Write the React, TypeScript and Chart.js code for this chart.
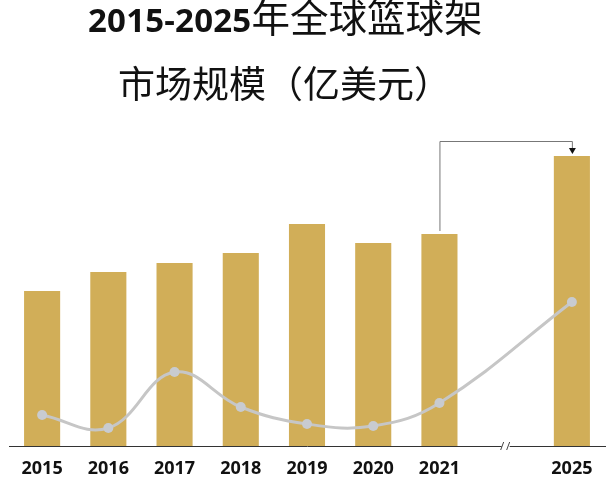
import React, { useEffect, useRef } from "react";
import { Chart, registerables } from "chart.js";

Chart.register(...registerables);

const titleNumber = "2015-2025";
const titleLine1 = "年全球篮球架";
const titleLine2 = "市场规模（亿美元）";

const categories = ["2015", "2016", "2017", "2018", "2019", "2020", "2021", "", "2025"];
const marketSize = [15.5, 17.4, 18.3, 19.3, 22.2, 20.3, 21.2, null, 29.0];
const trendLine = [3.1, 1.8, 7.4, 3.9, 2.2, 2.0, 4.3, null, 14.4];
const breakIndex = 7;
const arrowFrom = 6;
const arrowTo = 8;

const extrasPlugin = {
  id: "extras",
  afterDraw(chart: any) {
    const ctx = chart.ctx;
    const x = chart.scales.x;
    const area = chart.chartArea;
    // axis break marks
    const bx = x.getPixelForValue(breakIndex);
    const by = area.bottom;
    ctx.save();
    ctx.fillStyle = "#ffffff";
    ctx.fillRect(bx - 4, by - 1, 8, 3);
    ctx.strokeStyle = "#444";
    ctx.lineWidth = 1;
    ctx.beginPath();
    ctx.moveTo(bx - 5, by + 4);
    ctx.lineTo(bx - 2, by - 4);
    ctx.moveTo(bx + 1, by + 4);
    ctx.lineTo(bx + 4, by - 4);
    ctx.stroke();
    // arrow
    const meta = chart.getDatasetMeta(0);
    const a = meta.data[arrowFrom];
    const b = meta.data[arrowTo];
    if (a && b) {
      const topY = Math.min(a.y, b.y) - 15;
      ctx.strokeStyle = "#777";
      ctx.lineWidth = 1;
      ctx.beginPath();
      ctx.moveTo(a.x + 0.5, a.y - 3);
      ctx.lineTo(a.x + 0.5, topY + 0.5);
      ctx.lineTo(b.x + 0.5, topY + 0.5);
      ctx.lineTo(b.x + 0.5, b.y - 6);
      ctx.stroke();
      ctx.fillStyle = "#111";
      ctx.beginPath();
      ctx.moveTo(b.x + 0.5 - 3.5, b.y - 8);
      ctx.lineTo(b.x + 0.5 + 3.5, b.y - 8);
      ctx.lineTo(b.x + 0.5, b.y - 2);
      ctx.closePath();
      ctx.fill();
    }
    ctx.restore();
  },
};

export default function App() {
  const ref = useRef<HTMLCanvasElement>(null);
  useEffect(() => {
    if (!ref.current) return;
    const chart = new Chart(ref.current, {
      type: "bar",
      data: {
        labels: categories,
        datasets: [
          {
            type: "bar",
            data: marketSize as any,
            backgroundColor: "#D1AE58",
            barPercentage: 0.545,
            categoryPercentage: 1,
            order: 1,
          },
          {
            type: "line",
            data: trendLine as any,
            borderColor: "#C6C6C6",
            borderWidth: 3,
            tension: 0.4,
            spanGaps: true,
            pointRadius: 5,
            pointBackgroundColor: "#C8CBD0",
            pointBorderWidth: 0,
            order: 0,
          },
        ],
      },
      options: {
        responsive: false,
        animation: false,
        layout: { padding: { top: 146, left: 9, right: 4, bottom: 0 } },
        plugins: { legend: { display: false }, tooltip: { enabled: false } },
        scales: {
          x: {
            grid: { display: false },
            border: { display: true, color: "#333", width: 1 },
            ticks: {
              color: "#111",
              font: { family: "'Open Sans'", size: 18, weight: "bold" as any },
              padding: 4,
              maxRotation: 0,
              autoSkip: false,
            },
            afterFit(scale: any) {
              scale.height = 32;
            },
          },
          y: { display: false, min: 0, max: 30 },
        },
      },
      plugins: [extrasPlugin],
    });
    return () => chart.destroy();
  }, []);

  return (
    <div style={{ position: "fixed", left: 0, top: 0, width: 610, height: 478, background: "#fff" }}>
      <canvas ref={ref} width={610} height={478} style={{ position: "absolute", left: 0, top: 0 }} />
      <div
        style={{
          position: "absolute",
          left: 88,
          top: -8,
          whiteSpace: "nowrap",
          lineHeight: "46px",
          color: "#111",
        }}
      >
        <span style={{ fontFamily: "'Open Sans'", fontWeight: 700, fontSize: 33, letterSpacing: "0.2px" }}>{titleNumber}</span>
        <span style={{ fontFamily: "'Noto Sans CJK SC'", fontWeight: 400, fontSize: 38.5 }}>{titleLine1}</span>
      </div>
      <div
        style={{
          position: "absolute",
          left: 118,
          top: 62,
          whiteSpace: "nowrap",
          lineHeight: "40px",
          fontFamily: "'Noto Sans CJK SC'",
          fontSize: 37,
          color: "#111",
        }}
      >
        {titleLine2}
      </div>
    </div>
  );
}
